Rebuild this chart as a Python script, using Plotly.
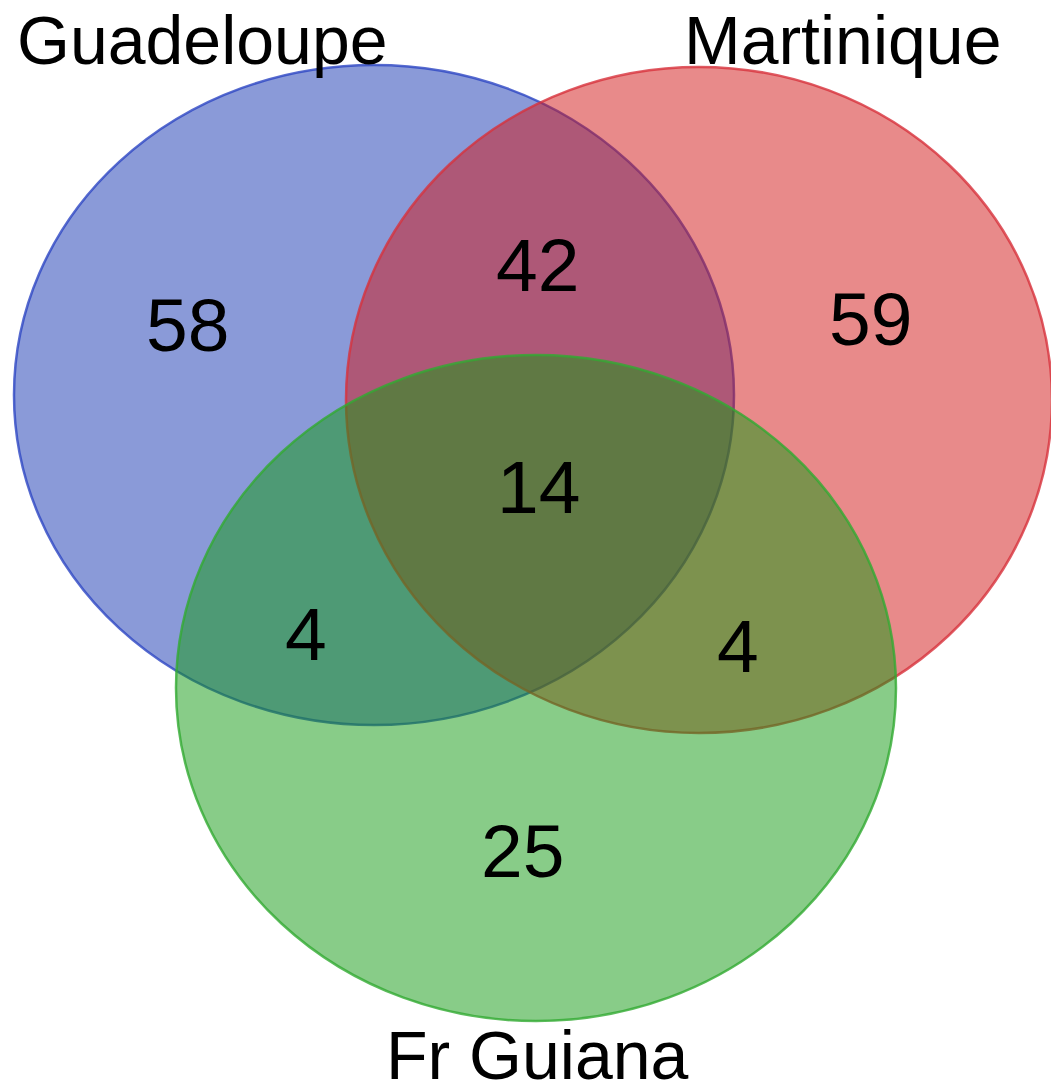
import plotly.graph_objects as go

W, H = 1059, 1085
OFF = 8  # default page body margin of the written HTML

# Sets
set_names = ["Guadeloupe", "Martinique", "Fr Guiana"]
set_cx = [374, 699, 536]
set_cy = [395, 400, 688]
set_rx = [360, 353, 360]
set_ry = [330, 333, 333]
fill_rgb = [(21, 53, 177), (209, 21, 21), (17, 153, 17)]
line_rgb = [(45, 70, 195), (215, 50, 60), (50, 170, 50)]

# Set label positions
label_x = [202, 843, 537]
label_y = [40, 40, 1055]

# Region counts
region_labels = ["58", "42", "59", "14", "4", "4", "25"]
region_x = [187, 537, 870, 538, 306, 738, 522]
region_y = [325, 265, 319, 487, 634, 646, 851]

fig = go.Figure()

shapes = []
for cx, cy, rx, ry, fc, lc in zip(set_cx, set_cy, set_rx, set_ry, fill_rgb, line_rgb):
    shapes.append(dict(
        type="circle", xref="x", yref="y",
        x0=cx - rx, x1=cx + rx, y0=cy - ry, y1=cy + ry,
        fillcolor="rgba(%d,%d,%d,0.5)" % fc,
        line=dict(color="rgba(%d,%d,%d,0.8)" % lc, width=2.5),
        layer="above",
    ))

# invisible anchor trace so the axes exist
fig.add_trace(go.Scatter(x=region_x, y=region_y, mode="markers",
                         marker=dict(opacity=0), hoverinfo="skip", showlegend=False))

annotations = []
for t, x, y in zip(region_labels, region_x, region_y):
    annotations.append(dict(
        x=x, y=y, xref="x", yref="y", text=t, showarrow=False,
        font=dict(family="Liberation Sans, Arial, sans-serif", size=75, color="black"),
        xanchor="center", yanchor="middle",
    ))
for name, x, y in zip(set_names, label_x, label_y):
    annotations.append(dict(
        x=x, y=y, xref="x", yref="y", text=name, showarrow=False,
        font=dict(family="Liberation Sans, Arial, sans-serif", size=68, color="black"),
        xanchor="center", yanchor="middle",
    ))

fig.update_layout(
    width=W - OFF, height=H - OFF,
    margin=dict(l=0, r=0, t=0, b=0),
    paper_bgcolor="white", plot_bgcolor="white",
    shapes=shapes, annotations=annotations,
    xaxis=dict(range=[OFF, W], visible=False, fixedrange=True),
    yaxis=dict(range=[H, OFF], visible=False, fixedrange=True),
    showlegend=False,
)

fig.write_html("out.html")
